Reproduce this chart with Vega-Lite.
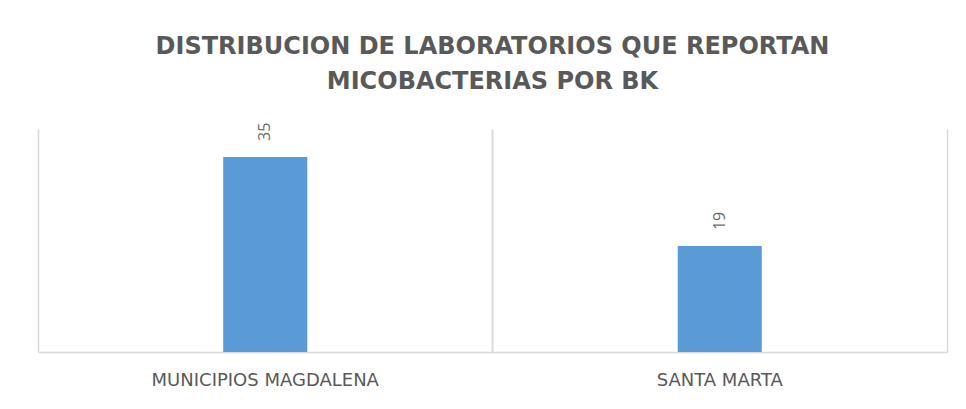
{
  "$schema": "https://vega.github.io/schema/vega-lite/v6.json",
  "width": 909,
  "height": 223,
  "autosize": {"type": "none"},
  "padding": {"top": 129, "left": 38, "right": 19, "bottom": 57},
  "background": "white",
  "title": {
    "text": ["DISTRIBUCION DE LABORATORIOS QUE REPORTAN", "MICOBACTERIAS POR BK"],
    "anchor": "middle",
    "font": "DejaVu Sans",
    "fontSize": 24,
    "fontWeight": "bold",
    "color": "#595959",
    "lineHeight": 35,
    "offset": 29
  },
  "data": {
    "values": [
      {"categoria": "MUNICIPIOS MAGDALENA", "valor": 35},
      {"categoria": "SANTA MARTA", "valor": 19}
    ]
  },
  "layer": [
    {
      "mark": {"type": "bar", "color": "#5b9bd5", "width": {"band": 0.185}},
      "encoding": {
        "x": {
          "field": "categoria",
          "type": "nominal",
          "sort": null,
          "scale": {"paddingInner": 0, "paddingOuter": 0},
          "axis": {
            "orient": "bottom",
            "title": null,
            "labelAngle": 0,
            "ticks": false,
            "domainColor": "#d9d9d9",
            "domainWidth": 1.5,
            "grid": true,
            "bandPosition": 0,
            "gridColor": "#d9d9d9",
            "gridWidth": 1.5,
            "labelFont": "DejaVu Sans",
            "labelFontSize": 18,
            "labelColor": "#595959",
            "labelPadding": 19,
            "labelLimit": 0
          }
        },
        "y": {
          "field": "valor",
          "type": "quantitative",
          "scale": {"domain": [0, 40], "nice": false},
          "axis": null
        }
      }
    },
    {
      "mark": {
        "type": "text",
        "angle": 270,
        "align": "left",
        "baseline": "middle",
        "dx": 16,
        "font": "Open Sans",
        "fontSize": 16,
        "color": "#6b6b6b"
      },
      "encoding": {
        "x": {
          "field": "categoria",
          "type": "nominal",
          "sort": null,
          "axis": {
            "orient": "top",
            "title": null,
            "labels": false,
            "ticks": false,
            "domain": false,
            "grid": true,
            "bandPosition": 1,
            "gridColor": "#d9d9d9",
            "gridWidth": 1.5
          }
        },
        "y": {"field": "valor", "type": "quantitative"},
        "text": {"field": "valor", "type": "quantitative"}
      }
    }
  ],
  "resolve": {"axis": {"x": "independent"}},
  "config": {
    "view": {"stroke": null}
  }
}
